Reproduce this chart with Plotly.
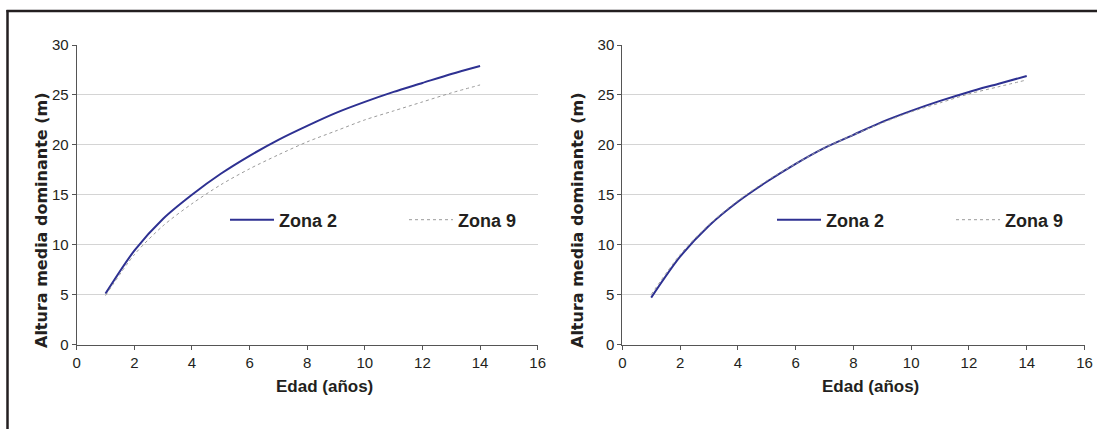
import plotly.graph_objects as go

edad = [1, 2, 3, 4, 5, 6, 7, 8, 9, 10, 11, 12, 13, 14]

# Left panel
izq_zona2 = [5.1, 9.4, 12.6, 15.0, 17.1, 18.9, 20.5, 21.9, 23.2, 24.3, 25.3, 26.2, 27.1, 27.9]
izq_zona9 = [4.9, 9.0, 11.9, 14.1, 16.0, 17.6, 19.0, 20.3, 21.4, 22.5, 23.4, 24.3, 25.2, 26.0]
# Right panel
der_zona2 = [4.7, 8.8, 11.9, 14.3, 16.3, 18.1, 19.7, 21.0, 22.3, 23.4, 24.4, 25.3, 26.1, 26.9]
der_zona9 = [5.0, 9.0, 12.0, 14.4, 16.4, 18.1, 19.7, 21.0, 22.2, 23.3, 24.2, 25.1, 25.8, 26.5]

nombres = ["Zona 2", "Zona 9"]
x_ticks = [0, 2, 4, 6, 8, 10, 12, 14, 16]
y_ticks = [0, 5, 10, 15, 20, 25, 30]
x_titulo = "Edad (años)"
y_titulo = "Altura media dominante (m)"

W, H = 1098, 429
NAVY = "#2e3192"
GRAY = "#9a9a9a"
INK = "#231f20"
SANS = "Liberation Sans, Arial, sans-serif"

fig = go.Figure()

panels = [
    (izq_zona2, izq_zona9, "x", "y", "legend"),
    (der_zona2, der_zona9, "x2", "y2", "legend2"),
]
for z2, z9, xa, ya, lg in panels:
    fig.add_trace(go.Scatter(x=edad, y=z2, mode="lines", name=nombres[0],
                             line=dict(color=NAVY, width=2, shape="spline", smoothing=0.8),
                             xaxis=xa, yaxis=ya, legend=lg))
    fig.add_trace(go.Scatter(x=edad, y=z9, mode="lines", name=nombres[1],
                             line=dict(color=GRAY, width=1, dash="dot", shape="spline", smoothing=0.8),
                             xaxis=xa, yaxis=ya, legend=lg))

def px_x(p):
    return p / W

def px_y(p):
    return 1 - p / H

axis_common = dict(
    showline=True, linecolor="#555555", linewidth=1,
    ticks="outside", ticklen=4, tickcolor="#555555",
    tickfont=dict(family=SANS, size=15, color=INK),
    zeroline=False, automargin=False,
)

xdomains = [[px_x(76.7), px_x(537.7)], [px_x(622.3), px_x(1084.5)]]
ydomain = [px_y(344.5), px_y(45)]

layout_axes = {}
for i, xd in enumerate(xdomains):
    sfx = "" if i == 0 else "2"
    layout_axes["xaxis" + sfx] = dict(
        axis_common, domain=xd, range=[0, 16], tickvals=x_ticks, showgrid=False,
        anchor="y" + sfx,
    )
    layout_axes["yaxis" + sfx] = dict(
        axis_common, domain=ydomain, range=[0, 30], tickvals=y_ticks,
        showgrid=True, gridcolor="#d4d4d4", gridwidth=1,
        anchor="x" + sfx,
    )

legend_common = dict(
    orientation="h", itemwidth=44, entrywidth=120, entrywidthmode="pixels",
    font=dict(family=SANS, size=18, color=INK, weight="bold"),
    bgcolor="rgba(0,0,0,0)", yanchor="middle", xanchor="left",
    tracegroupgap=0, itemclick=False, itemdoubleclick=False,
)

fig.update_layout(
    width=W, height=H,
    margin=dict(l=0, r=0, t=0, b=0, autoexpand=False),
    paper_bgcolor="white", plot_bgcolor="white",
    showlegend=True,
    legend=dict(legend_common, x=px_x(225), y=px_y(220)),
    legend2=dict(legend_common, x=px_x(772), y=px_y(220)),
    **layout_axes,
)

# axis titles
for cx in [324, 870]:
    fig.add_annotation(text=x_titulo, xref="paper", yref="paper",
                       x=px_x(cx), y=px_y(386), showarrow=False,
                       xanchor="center", yanchor="middle",
                       font=dict(family=SANS, size=17, color=INK, weight="bold"))
for cx in [42, 578]:
    fig.add_annotation(text=y_titulo, xref="paper", yref="paper",
                       x=px_x(cx), y=px_y(220), showarrow=False, textangle=-90,
                       xanchor="center", yanchor="middle",
                       font=dict(family="DejaVu Sans", size=16, color=INK, weight="bold"))

# outer frame (top and left edges)
fig.add_shape(type="line", xref="paper", yref="paper",
              x0=px_x(6.5), x1=px_x(1097), y0=px_y(11), y1=px_y(11),
              line=dict(color=INK, width=2.5))
fig.add_shape(type="line", xref="paper", yref="paper",
              x0=px_x(7.5), x1=px_x(7.5), y0=px_y(10), y1=0,
              line=dict(color=INK, width=2.5))

fig.write_html(
    "out.html",
    config={"displayModeBar": False},
    post_script="document.body.style.margin='0';document.body.style.overflow='hidden';",
)
